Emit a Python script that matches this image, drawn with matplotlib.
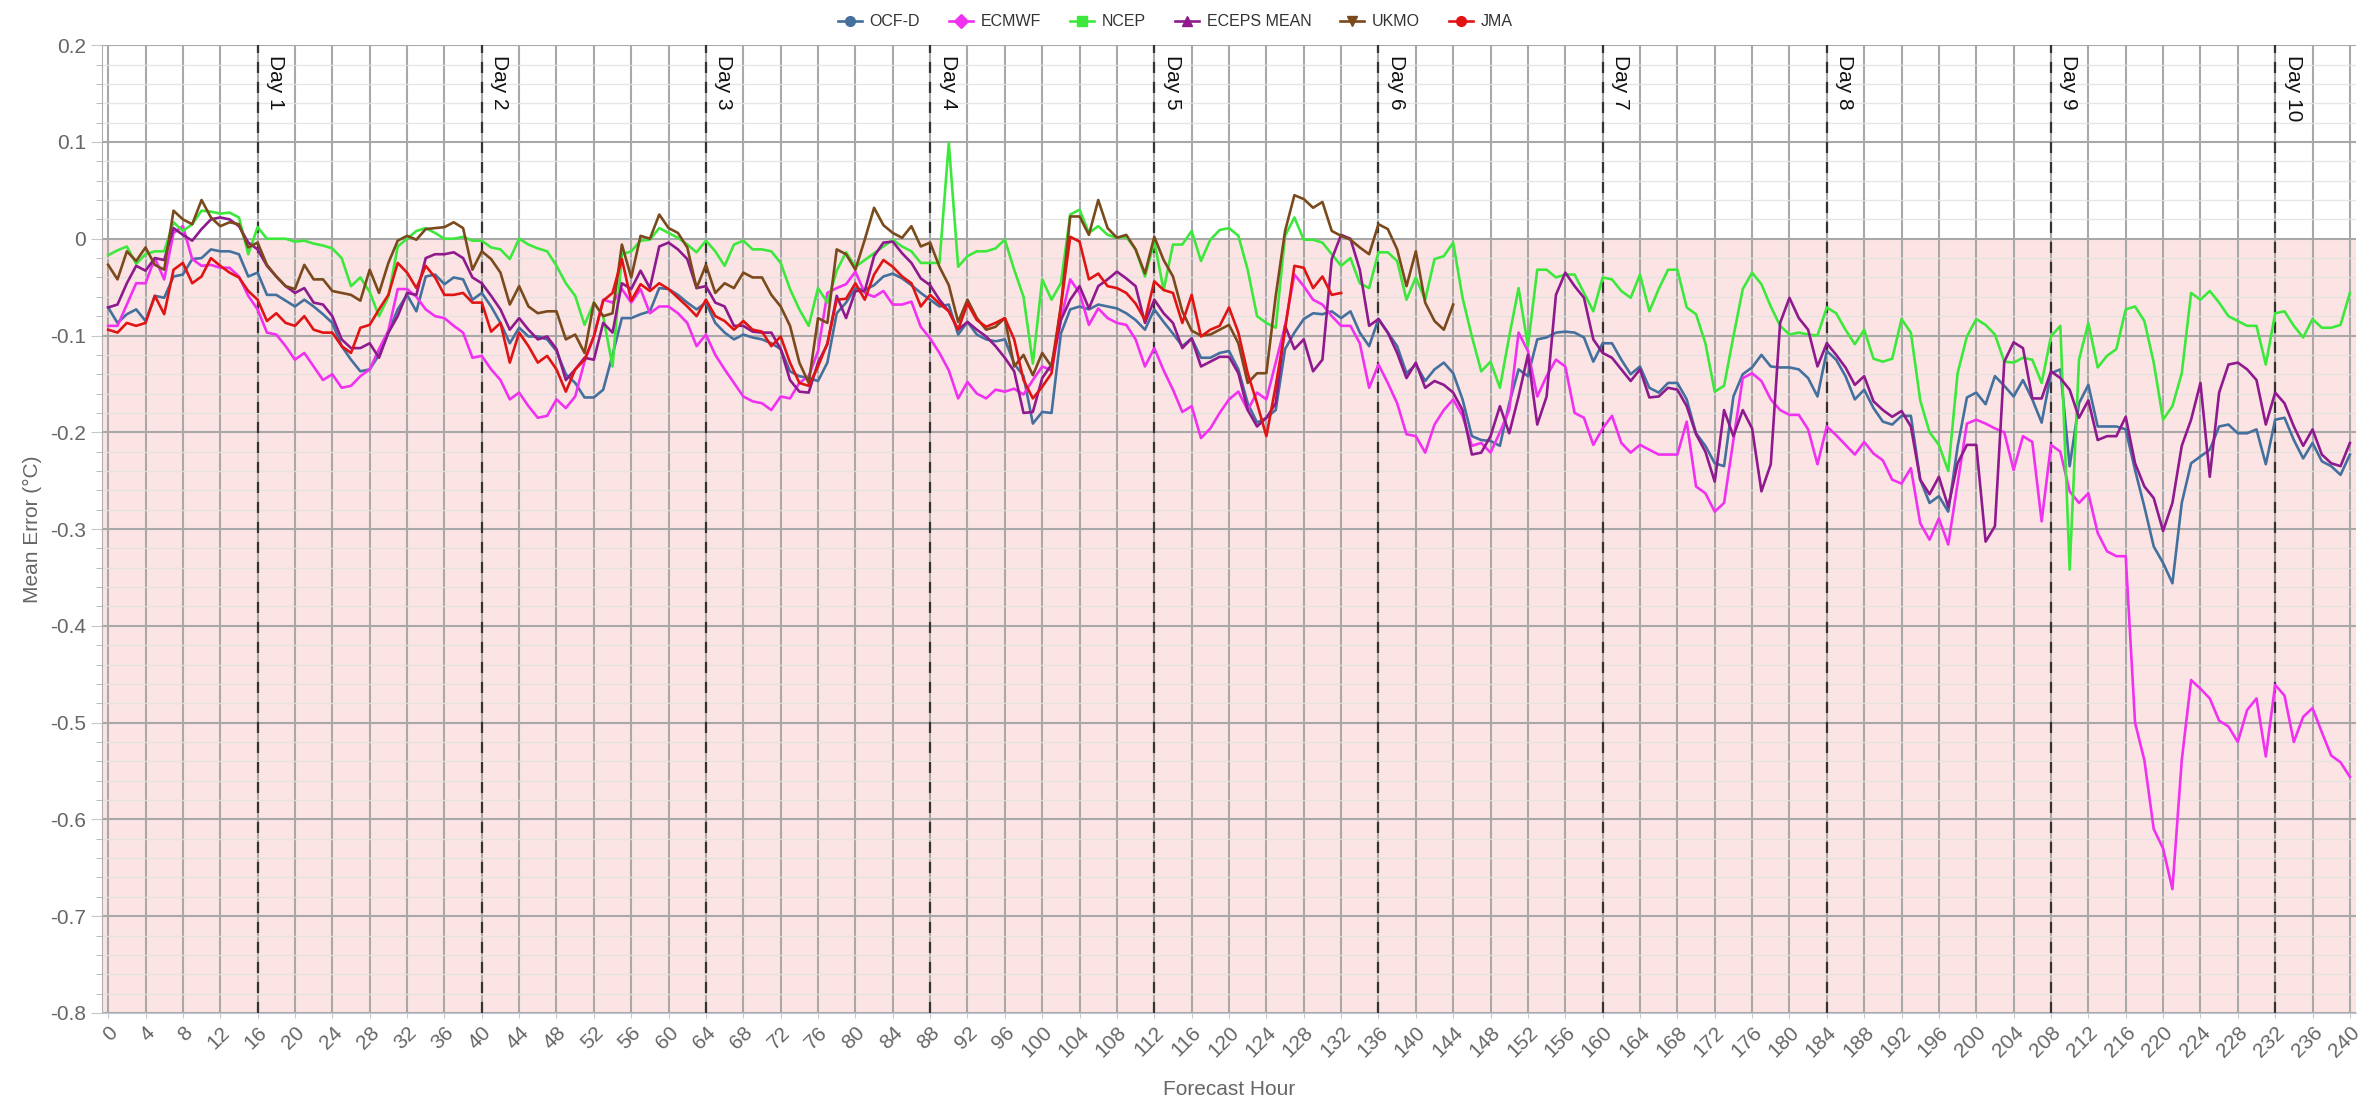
import numpy as np
import matplotlib.pyplot as plt
from matplotlib.lines import Line2D
from matplotlib.ticker import MultipleLocator, FuncFormatter

plt.rcParams['font.family'] = ['Liberation Sans', 'DejaVu Sans']

# hourly readings
hours = np.arange(0, 241)
hours_ukmo = np.arange(0, 145)
hours_jma = np.arange(0, 133)

ocfd = [-0.071, -0.087, -0.078, -0.073, -0.085, -0.059, -0.061, -0.039, -0.037, -0.021,
        -0.02, -0.011, -0.013, -0.013, -0.016, -0.039, -0.035, -0.058, -0.058, -0.064,
        -0.07, -0.063, -0.07, -0.078, -0.087, -0.111, -0.125, -0.137, -0.135, -0.12,
        -0.097, -0.073, -0.058, -0.075, -0.039, -0.037, -0.047, -0.04, -0.042, -0.063,
        -0.056, -0.07, -0.087, -0.108, -0.092, -0.101, -0.101, -0.104, -0.116, -0.14,
        -0.149, -0.164, -0.164, -0.156, -0.12, -0.082, -0.082, -0.078, -0.075, -0.051,
        -0.052, -0.058, -0.066, -0.073, -0.066, -0.087, -0.097, -0.104, -0.099, -0.102,
        -0.104, -0.108, -0.114, -0.137, -0.142, -0.144, -0.147, -0.128, -0.077, -0.066,
        -0.051, -0.053, -0.048, -0.039, -0.036, -0.041, -0.048, -0.056, -0.063, -0.07,
        -0.068, -0.099, -0.086, -0.099, -0.104, -0.106, -0.104, -0.129, -0.142, -0.191,
        -0.179, -0.18, -0.098, -0.073, -0.07, -0.073, -0.068, -0.07, -0.072, -0.077,
        -0.084, -0.094, -0.073, -0.086, -0.098, -0.111, -0.103, -0.123, -0.123, -0.118,
        -0.116, -0.135, -0.17, -0.19, -0.185, -0.177, -0.114, -0.097, -0.083, -0.077,
        -0.078, -0.075, -0.082, -0.075, -0.097, -0.111, -0.083, -0.097, -0.111, -0.139,
        -0.13, -0.147, -0.135, -0.128, -0.139, -0.166, -0.204, -0.208, -0.209, -0.214,
        -0.17, -0.135, -0.142, -0.104, -0.102, -0.097, -0.096, -0.097, -0.102, -0.127,
        -0.108, -0.108, -0.125, -0.14, -0.132, -0.154, -0.159, -0.149, -0.149, -0.166,
        -0.201, -0.214, -0.232, -0.235, -0.163, -0.14, -0.133, -0.12, -0.132, -0.133,
        -0.133, -0.135, -0.144, -0.163, -0.116, -0.125, -0.142, -0.166, -0.156, -0.175,
        -0.189, -0.192, -0.183, -0.183, -0.249, -0.273, -0.266, -0.282, -0.215, -0.164,
        -0.159, -0.171, -0.142, -0.152, -0.163, -0.146, -0.166, -0.19, -0.139, -0.135,
        -0.235, -0.17, -0.151, -0.194, -0.194, -0.194, -0.197, -0.239, -0.277, -0.318,
        -0.335, -0.356, -0.273, -0.232, -0.225, -0.218, -0.194, -0.192, -0.201, -0.201,
        -0.197, -0.233, -0.187, -0.185, -0.208, -0.227, -0.211, -0.23, -0.235, -0.244,
        -0.223]

ecmwf = [-0.09, -0.09, -0.068, -0.046, -0.046, -0.02, -0.042, 0.006, 0.013, -0.021,
         -0.028, -0.027, -0.03, -0.03, -0.039, -0.059, -0.073, -0.097, -0.099, -0.111,
         -0.125, -0.118, -0.132, -0.146, -0.14, -0.154, -0.152, -0.142, -0.135, -0.114,
         -0.095, -0.052, -0.052, -0.06, -0.073, -0.08, -0.082, -0.09, -0.097, -0.123,
         -0.121, -0.135, -0.146, -0.166, -0.159, -0.173, -0.185, -0.183, -0.166, -0.175,
         -0.163, -0.127, -0.101, -0.063, -0.066, -0.052, -0.066, -0.052, -0.077, -0.07,
         -0.07, -0.077, -0.087, -0.111, -0.099, -0.12, -0.135, -0.149, -0.163, -0.168,
         -0.17, -0.177, -0.163, -0.165, -0.149, -0.142, -0.116, -0.056, -0.051, -0.047,
         -0.034, -0.056, -0.06, -0.054, -0.068, -0.068, -0.065, -0.091, -0.103, -0.118,
         -0.136, -0.165, -0.148, -0.16, -0.165, -0.156, -0.158, -0.155, -0.161, -0.146,
         -0.132, -0.136, -0.084, -0.042, -0.056, -0.089, -0.072, -0.082, -0.087, -0.089,
         -0.104, -0.132, -0.113, -0.136, -0.156, -0.179, -0.173, -0.206, -0.196, -0.18,
         -0.166, -0.158, -0.177, -0.159, -0.166, -0.128, -0.09, -0.037, -0.049, -0.063,
         -0.068, -0.08, -0.09, -0.09, -0.108, -0.154, -0.13, -0.149, -0.17, -0.202,
         -0.204, -0.221, -0.192, -0.177, -0.166, -0.183, -0.214, -0.211, -0.221, -0.2,
         -0.177, -0.097, -0.116, -0.163, -0.142, -0.125, -0.132, -0.18, -0.185, -0.213,
         -0.196, -0.183, -0.211, -0.221, -0.213, -0.218, -0.223, -0.223, -0.223, -0.189,
         -0.256, -0.263, -0.282, -0.273, -0.208, -0.144, -0.139, -0.147, -0.166, -0.177,
         -0.182, -0.182, -0.197, -0.233, -0.194, -0.203, -0.213, -0.223, -0.21, -0.222,
         -0.229, -0.249, -0.253, -0.237, -0.294, -0.311, -0.289, -0.316, -0.253, -0.191,
         -0.187, -0.191, -0.196, -0.2, -0.239, -0.204, -0.21, -0.292, -0.213, -0.22,
         -0.261, -0.273, -0.263, -0.304, -0.323, -0.328, -0.328, -0.5, -0.539, -0.61,
         -0.63, -0.672, -0.539, -0.456, -0.465, -0.475, -0.498, -0.504, -0.52, -0.487,
         -0.475, -0.535, -0.461, -0.472, -0.52, -0.494, -0.485, -0.51, -0.534, -0.541,
         -0.556]

ncep = [-0.017, -0.012, -0.008, -0.026, -0.016, -0.013, -0.013, 0.017, 0.008, 0.015,
        0.029, 0.028, 0.026, 0.027, 0.022, -0.016, 0.012, 0.0, 0.0, 0.0,
        -0.003, -0.002, -0.005, -0.007, -0.01, -0.02, -0.049, -0.04, -0.055, -0.08,
        -0.06, -0.008, 0.0, 0.008, 0.011, 0.006, 0.0, 0.0, 0.002, -0.002,
        -0.002, -0.009, -0.011, -0.021, 0.0, -0.006, -0.01, -0.013, -0.028, -0.046,
        -0.059, -0.089, -0.066, -0.08, -0.132, -0.016, -0.013, -0.002, -0.001, 0.011,
        0.006, 0.001, -0.006, -0.014, -0.002, -0.013, -0.028, -0.006, -0.002, -0.011,
        -0.011, -0.013, -0.025, -0.052, -0.073, -0.09, -0.051, -0.066, -0.033, -0.014,
        -0.029, -0.022, -0.015, -0.008, -0.001, -0.008, -0.013, -0.025, -0.025, -0.025,
        0.099, -0.029, -0.018, -0.013, -0.013, -0.01, -0.001, -0.032, -0.06, -0.129,
        -0.042, -0.063, -0.046, 0.025, 0.03, 0.006, 0.013, 0.004, 0.001, 0.002,
        -0.011, -0.039, -0.003, -0.053, -0.006, -0.006, 0.008, -0.023, -0.001, 0.009,
        0.011, 0.003, -0.032, -0.08, -0.087, -0.092, 0.003, 0.022, -0.001, -0.001,
        -0.004, -0.016, -0.028, -0.02, -0.046, -0.051, -0.014, -0.014, -0.023, -0.063,
        -0.04, -0.063, -0.021, -0.018, -0.004, -0.061, -0.101, -0.137, -0.127, -0.154,
        -0.101, -0.051, -0.111, -0.032, -0.032, -0.04, -0.037, -0.037, -0.056, -0.075,
        -0.04, -0.042, -0.054, -0.061, -0.037, -0.075, -0.052, -0.032, -0.032, -0.071,
        -0.078, -0.108, -0.158, -0.152, -0.101, -0.052, -0.035, -0.047, -0.07, -0.09,
        -0.099, -0.097, -0.099, -0.1, -0.071, -0.077, -0.094, -0.109, -0.094, -0.124,
        -0.127, -0.124, -0.083, -0.097, -0.167, -0.2, -0.213, -0.24, -0.139, -0.101,
        -0.083, -0.089, -0.099, -0.127, -0.128, -0.123, -0.125, -0.149, -0.101, -0.09,
        -0.342, -0.125, -0.087, -0.133, -0.121, -0.114, -0.073, -0.07, -0.085, -0.128,
        -0.187, -0.173, -0.139, -0.056, -0.063, -0.054, -0.066, -0.08, -0.085, -0.09,
        -0.09, -0.13, -0.077, -0.075, -0.09, -0.102, -0.083, -0.092, -0.092, -0.089,
        -0.056]

eceps = [-0.071, -0.068, -0.046, -0.028, -0.033, -0.02, -0.022, 0.011, 0.004, -0.002,
         0.01, 0.02, 0.022, 0.02, 0.013, -0.004, -0.011, -0.028, -0.039, -0.049,
         -0.056, -0.051, -0.066, -0.068, -0.08, -0.104, -0.113, -0.113, -0.108, -0.123,
         -0.097, -0.08, -0.056, -0.058, -0.02, -0.016, -0.016, -0.014, -0.02, -0.04,
         -0.046, -0.059, -0.073, -0.094, -0.082, -0.094, -0.104, -0.101, -0.114, -0.146,
         -0.135, -0.123, -0.125, -0.087, -0.097, -0.046, -0.052, -0.033, -0.051, -0.008,
         -0.004, -0.011, -0.021, -0.051, -0.049, -0.066, -0.07, -0.09, -0.09, -0.096,
         -0.097, -0.097, -0.114, -0.146, -0.158, -0.159, -0.128, -0.109, -0.059, -0.082,
         -0.054, -0.054, -0.018, -0.004, -0.003, -0.015, -0.025, -0.041, -0.048, -0.063,
         -0.075, -0.094, -0.086, -0.094, -0.101, -0.111, -0.123, -0.137, -0.18, -0.179,
         -0.144, -0.13, -0.084, -0.063, -0.049, -0.072, -0.049, -0.042, -0.034, -0.041,
         -0.049, -0.087, -0.063, -0.077, -0.087, -0.113, -0.103, -0.132, -0.127, -0.122,
         -0.122, -0.139, -0.177, -0.194, -0.185, -0.17, -0.09, -0.114, -0.104, -0.137,
         -0.125, -0.021, 0.004, 0.0, -0.032, -0.09, -0.083, -0.097, -0.118, -0.144,
         -0.128, -0.154, -0.147, -0.151, -0.159, -0.177, -0.223, -0.221, -0.204, -0.173,
         -0.201, -0.163, -0.12, -0.192, -0.163, -0.058, -0.035, -0.049, -0.061, -0.104,
         -0.118, -0.123, -0.135, -0.147, -0.135, -0.164, -0.163, -0.154, -0.156, -0.173,
         -0.202, -0.22, -0.251, -0.177, -0.204, -0.177, -0.196, -0.261, -0.233, -0.087,
         -0.061, -0.082, -0.094, -0.132, -0.108, -0.12, -0.133, -0.151, -0.142, -0.168,
         -0.177, -0.184, -0.178, -0.194, -0.249, -0.264, -0.246, -0.277, -0.232, -0.213,
         -0.213, -0.313, -0.297, -0.127, -0.107, -0.113, -0.165, -0.165, -0.137, -0.144,
         -0.156, -0.185, -0.167, -0.208, -0.204, -0.204, -0.184, -0.232, -0.256, -0.268,
         -0.302, -0.273, -0.214, -0.187, -0.149, -0.246, -0.159, -0.13, -0.128, -0.135,
         -0.146, -0.192, -0.159, -0.17, -0.194, -0.214, -0.197, -0.223, -0.232, -0.235,
         -0.211]

ukmo = [-0.027, -0.042, -0.013, -0.023, -0.009, -0.027, -0.032, 0.029, 0.02, 0.015,
        0.04, 0.022, 0.013, 0.017, 0.015, -0.009, -0.004, -0.027, -0.039, -0.049,
        -0.052, -0.027, -0.042, -0.042, -0.054, -0.056, -0.058, -0.064, -0.032, -0.056,
        -0.025, -0.002, 0.003, -0.001, 0.01, 0.011, 0.012, 0.017, 0.011, -0.032,
        -0.013, -0.021, -0.035, -0.068, -0.049, -0.07, -0.077, -0.075, -0.075, -0.104,
        -0.099, -0.118, -0.066, -0.08, -0.077, -0.006, -0.04, 0.003, 0.0, 0.025,
        0.011, 0.006, -0.009, -0.051, -0.027, -0.056, -0.046, -0.051, -0.035, -0.04,
        -0.04, -0.058, -0.07, -0.09, -0.128, -0.149, -0.082, -0.087, -0.011, -0.016,
        -0.032, -0.001, 0.032, 0.014, 0.006, 0.001, 0.013, -0.008, -0.004, -0.029,
        -0.048, -0.086, -0.063, -0.082, -0.094, -0.091, -0.082, -0.132, -0.12, -0.141,
        -0.118, -0.132, -0.07, 0.023, 0.023, 0.004, 0.04, 0.011, 0.001, 0.004,
        -0.011, -0.036, 0.002, -0.022, -0.039, -0.075, -0.095, -0.1, -0.099, -0.094,
        -0.089, -0.108, -0.149, -0.139, -0.139, -0.059, 0.008, 0.045, 0.041, 0.032,
        0.038, 0.008, 0.003, -0.001, -0.009, -0.016, 0.015, 0.01, -0.011, -0.049,
        -0.013, -0.066, -0.085, -0.094, -0.068]

jma = [-0.094, -0.097, -0.087, -0.09, -0.087, -0.059, -0.078, -0.032, -0.025, -0.046,
       -0.039, -0.02, -0.028, -0.035, -0.04, -0.054, -0.063, -0.085, -0.077, -0.087,
       -0.09, -0.08, -0.094, -0.097, -0.097, -0.111, -0.118, -0.092, -0.089, -0.073,
       -0.058, -0.025, -0.035, -0.051, -0.028, -0.04, -0.058, -0.058, -0.056, -0.066,
       -0.066, -0.096, -0.087, -0.128, -0.097, -0.111, -0.128, -0.121, -0.135, -0.158,
       -0.135, -0.125, -0.101, -0.064, -0.056, -0.021, -0.064, -0.047, -0.054, -0.046,
       -0.052, -0.061, -0.07, -0.08, -0.063, -0.08, -0.085, -0.094, -0.085, -0.094,
       -0.096, -0.111, -0.101, -0.128, -0.149, -0.152, -0.132, -0.108, -0.063, -0.062,
       -0.046, -0.063, -0.037, -0.022, -0.029, -0.039, -0.046, -0.07, -0.058, -0.067,
       -0.075, -0.094, -0.067, -0.084, -0.091, -0.087, -0.082, -0.104, -0.146, -0.165,
       -0.153, -0.139, -0.07, 0.002, -0.003, -0.042, -0.036, -0.049, -0.051, -0.056,
       -0.067, -0.084, -0.044, -0.053, -0.056, -0.087, -0.058, -0.101, -0.094, -0.09,
       -0.071, -0.097, -0.139, -0.17, -0.204, -0.152, -0.094, -0.028, -0.03, -0.051,
       -0.039, -0.058, -0.056]

day_hours = [16, 40, 64, 88, 112, 136, 160, 184, 208, 232]
day_labels = ['Day 1', 'Day 2', 'Day 3', 'Day 4', 'Day 5',
              'Day 6', 'Day 7', 'Day 8', 'Day 9', 'Day 10']

series = [
    ('OCF-D', hours, ocfd, '#44709d', 'o'),
    ('ECMWF', hours, ecmwf, '#f032f0', 'D'),
    ('NCEP', hours, ncep, '#3de83d', 's'),
    ('ECEPS MEAN', hours, eceps, '#8e1a8e', '^'),
    ('UKMO', hours_ukmo, ukmo, '#7a4a1c', 'v'),
    ('JMA', hours_jma, jma, '#e01414', 'o'),
]

fig, ax = plt.subplots(figsize=(23.74, 11.02), dpi=100)
fig.subplots_adjust(left=0.043, right=0.9924, top=0.959, bottom=0.0808)

ax.axhspan(-0.8, 0, color='#fde4e4', zorder=0, lw=0)
ax.set_axisbelow(True)
ax.yaxis.set_major_locator(MultipleLocator(0.1))
ax.yaxis.set_minor_locator(MultipleLocator(0.02))
ax.xaxis.set_major_locator(MultipleLocator(4))
ax.grid(which='minor', axis='y', color='#e2e2e2', lw=1.0, alpha=0.85)
ax.grid(which='major', color='#a8a8a8', lw=1.5)

for h, lab in zip(day_hours, day_labels):
    ax.axvline(h, color='#333333', ls=(0, (5, 4)), lw=1.6, zorder=2)
    ax.text(h + 0.9, 0.19, lab, rotation=-90, va='top', ha='left',
            fontsize=15, color='#111111', zorder=3)

handles = []
for name, x, y, c, m in series:
    ax.plot(x, y, color=c, lw=1.9, zorder=4)
    handles.append(Line2D([], [], color=c, lw=1.9, marker=m, markersize=7, label=name))

ax.set_xlim(-0.65, 240.65)
ax.set_ylim(-0.8, 0.2)
ax.yaxis.set_major_formatter(FuncFormatter(lambda v, p: '0' if abs(v) < 1e-9 else f'{v:.1f}'))
ax.tick_params(axis='both', which='major', labelsize=15, labelcolor='#666666', color='#c8c8c8')
ax.tick_params(axis='y', which='minor', color='#b0b0b0', length=4)
ax.tick_params(axis='y', which='major', length=8)
for lbl in ax.get_xticklabels():
    lbl.set_rotation(45)
    lbl.set_ha('right')
    lbl.set_rotation_mode('anchor')

for s in ['top', 'right']:
    ax.spines[s].set_visible(False)
ax.spines['left'].set_color('#b0b0b0')
ax.spines['bottom'].set_color('#c0c8d8')

ax.set_xlabel('Forecast Hour', fontsize=15, color='#666666', labelpad=14)
ax.set_ylabel('Mean Error (°C)', fontsize=15, color='#666666', labelpad=6)

leg = fig.legend(handles=handles, loc='upper center', bbox_to_anchor=(0.495, 1.0), ncol=6,
                 frameon=False, fontsize=11.5, handlelength=1.5, columnspacing=1.8,
                 handletextpad=0.5)
for t in leg.get_texts():
    t.set_color('#333333')

fig.savefig('out.png', dpi=100)
